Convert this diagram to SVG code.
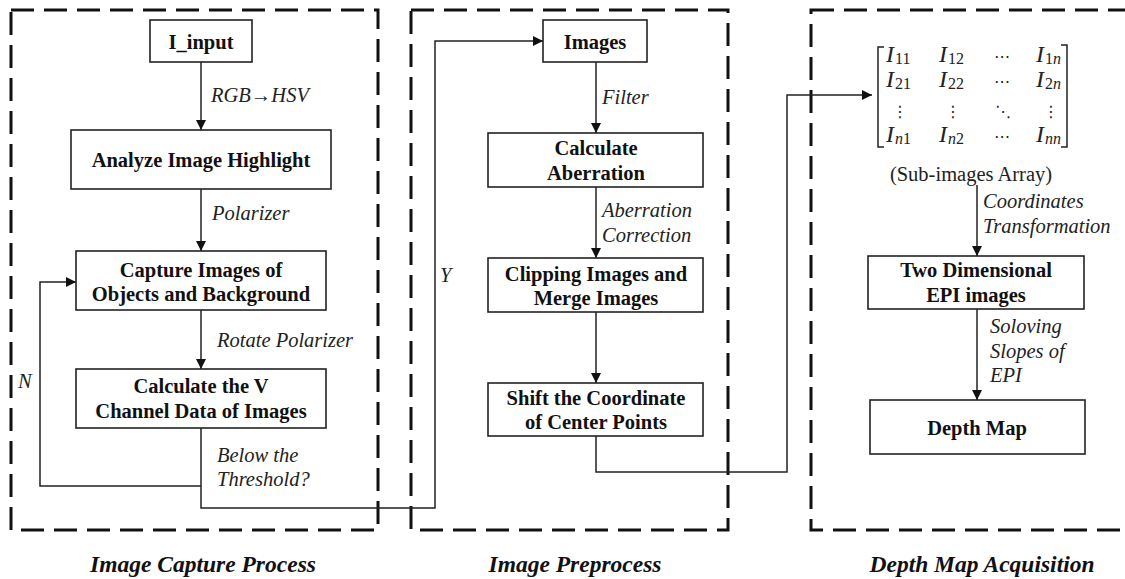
<svg xmlns="http://www.w3.org/2000/svg" width="1125" height="579" viewBox="0 0 1125 579" font-family="'Liberation Serif', 'DejaVu Serif', serif">
<defs>
<marker id="arr" markerUnits="userSpaceOnUse" markerWidth="11" markerHeight="11" refX="10" refY="5" orient="auto">
<path d="M0,0 L10,5 L0,10 z" fill="#111"/>
</marker>
<style>
.panel{fill:none;stroke:#111;stroke-width:3;stroke-dasharray:23 10}
.box{fill:#fff;stroke:#222;stroke-width:1.6}
.bt{font-weight:bold;font-size:20.5px;text-anchor:middle;fill:#111}
.it{font-style:italic;font-size:20.5px;fill:#222}
.rt{font-size:20.5px;fill:#222}
.title{font-style:italic;font-weight:bold;font-size:23.5px;text-anchor:middle;fill:#111}
.con{fill:none;stroke:#222;stroke-width:1.5}
.mi{font-style:italic;font-size:24px;fill:#222}
.ms{font-style:normal;font-size:16px;fill:#222}
.msi{font-style:italic}
.md{font-family:'DejaVu Sans',sans-serif;font-size:16px;fill:#222;text-anchor:middle}
</style>
</defs>
<rect width="1125" height="579" fill="#fff"/>

<g id="panels">
<rect class="panel" x="11" y="10" width="367" height="520"/>
<rect class="panel" x="411" y="10" width="317" height="520"/>
<rect class="panel" x="811" y="10" width="340" height="520"/>
</g>

<g id="connectors">
<path class="con" d="M201,62 V130" marker-end="url(#arr)"/>
<path class="con" d="M201,189 V251" marker-end="url(#arr)"/>
<path class="con" d="M201,310 V369" marker-end="url(#arr)"/>
<path class="con" d="M201,428 V508 H435 V41 H543" marker-end="url(#arr)"/>
<path class="con" d="M201,486 H40 V282 H76" marker-end="url(#arr)"/>
<path class="con" d="M596,62 V133" marker-end="url(#arr)"/>
<path class="con" d="M596,187 V258" marker-end="url(#arr)"/>
<path class="con" d="M596,312 V383" marker-end="url(#arr)"/>
<path class="con" d="M596,436 V472 H787 V95 H872" marker-end="url(#arr)"/>
<path class="con" d="M977,185 V256" marker-end="url(#arr)"/>
<path class="con" d="M977,309 V400" marker-end="url(#arr)"/>
</g>

<g id="labels">
<text class="it" x="211" y="102">RGB→HSV</text>
<text class="it" x="212" y="220">Polarizer</text>
<text class="it" x="217" y="347">Rotate Polarizer</text>
<text class="it" x="217" y="462">Below the</text>
<text class="it" x="217" y="486">Threshold?</text>
<text class="it" x="18" y="388">N</text>
<text class="it" x="440" y="282">Y</text>
<text class="it" x="602" y="104">Filter</text>
<text class="it" x="602" y="217">Aberration</text>
<text class="it" x="602" y="242">Correction</text>
<text class="it" x="983" y="208">Coordinates</text>
<text class="it" x="983" y="233">Transformation</text>
<text class="it" x="990" y="333">Soloving</text>
<text class="it" x="990" y="358">Slopes of</text>
<text class="it" x="990" y="382">EPI</text>
</g>

<g id="n-input">
<rect class="box" x="150" y="20" width="102" height="42"/>
<text class="bt" x="201" y="49">I_input</text>
</g>
<g id="n-analyze">
<rect class="box" x="71" y="130" width="260" height="59"/>
<text class="bt" x="201" y="167">Analyze Image Highlight</text>
</g>
<g id="n-capture">
<rect class="box" x="76" y="251" width="250" height="59"/>
<text class="bt" x="201" y="277">Capture Images of</text>
<text class="bt" x="201" y="301">Objects and Background</text>
</g>
<g id="n-calcv">
<rect class="box" x="76" y="369" width="250" height="59"/>
<text class="bt" x="201" y="393">Calculate the V</text>
<text class="bt" x="201" y="418">Channel Data of Images</text>
</g>

<g id="n-images">
<rect class="box" x="543" y="20" width="104" height="42"/>
<text class="bt" x="595" y="49">Images</text>
</g>
<g id="n-aberration">
<rect class="box" x="488" y="133" width="215" height="54"/>
<text class="bt" x="596" y="155">Calculate</text>
<text class="bt" x="596" y="180">Aberration</text>
</g>
<g id="n-clipping">
<rect class="box" x="488" y="258" width="215" height="54"/>
<text class="bt" x="596" y="281">Clipping Images and</text>
<text class="bt" x="596" y="305">Merge Images</text>
</g>
<g id="n-shift">
<rect class="box" x="488" y="383" width="215" height="53"/>
<text class="bt" x="596" y="405">Shift the Coordinate</text>
<text class="bt" x="596" y="429">of Center Points</text>
</g>

<g id="n-matrix">
<path class="con" d="M884,47 H878 V147 H884"/>
<path class="con" d="M1061,45 H1067 V147 H1061"/>
<text class="mi" x="886" y="62">I<tspan class="ms" dx="1" dy="2">11</tspan></text>
<text class="mi" x="939" y="62">I<tspan class="ms" dx="1" dy="2">12</tspan></text>
<text class="md" x="1002" y="62">⋯</text>
<text class="mi" x="1036" y="62">I<tspan class="ms" dx="1" dy="2">1<tspan class="msi">n</tspan></tspan></text>
<text class="mi" x="886" y="87">I<tspan class="ms" dx="1" dy="2">21</tspan></text>
<text class="mi" x="939" y="87">I<tspan class="ms" dx="1" dy="2">22</tspan></text>
<text class="md" x="1002" y="87">⋯</text>
<text class="mi" x="1036" y="87">I<tspan class="ms" dx="1" dy="2">2<tspan class="msi">n</tspan></tspan></text>
<text class="md" x="900" y="117">⋮</text>
<text class="md" x="953" y="117">⋮</text>
<text class="md" x="1003" y="117">⋱</text>
<text class="md" x="1051" y="117">⋮</text>
<text class="mi" x="886" y="142">I<tspan class="ms msi" dx="1" dy="2">n</tspan><tspan class="ms">1</tspan></text>
<text class="mi" x="939" y="142">I<tspan class="ms msi" dx="1" dy="2">n</tspan><tspan class="ms">2</tspan></text>
<text class="md" x="1002" y="142">⋯</text>
<text class="mi" x="1036" y="142">I<tspan class="ms msi" dx="1" dy="2">nn</tspan></text>
<text class="rt" x="971" y="181" text-anchor="middle">(Sub-images Array)</text>
</g>
<g id="n-epi">
<rect class="box" x="868" y="256" width="216" height="53"/>
<text class="bt" x="976" y="277">Two Dimensional</text>
<text class="bt" x="976" y="302">EPI images</text>
</g>
<g id="n-depth">
<rect class="box" x="870" y="400" width="215" height="54"/>
<text class="bt" x="977" y="435">Depth Map</text>
</g>

<g id="titles">
<text class="title" x="203" y="572">Image Capture Process</text>
<text class="title" x="575" y="572">Image Preprocess</text>
<text class="title" x="982" y="572">Depth Map Acquisition</text>
</g>
</svg>
